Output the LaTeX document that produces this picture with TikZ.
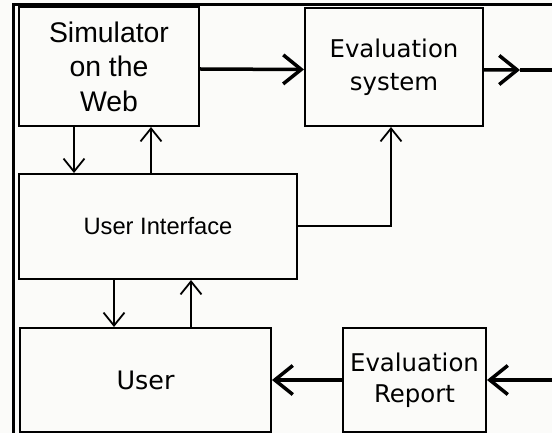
\documentclass[tikz,border=0pt]{standalone}
\usepackage{fontspec}
\setmainfont{DejaVu Sans}
\newfontfamily\arialfont{Liberation Sans}
\usetikzlibrary{arrows.meta}
\definecolor{bgcol}{RGB}{251,251,249}
\tikzset{
  box/.style={draw, line width=2bp, inner sep=0pt, align=center},
  thinarrow/.style={line width=1.6bp, -{Straight Barb[length=13bp, width=21bp, line width=1.8bp]}},
  thickarrow/.style={line width=3.5bp, -{Straight Barb[length=18bp, width=29bp, line width=3.5bp]}},
}
\begin{document}
\begin{tikzpicture}[x=1bp, y=-1bp]
        % Background and frame
        \fill[bgcol] (0,0) rectangle (552,433);
        \useasboundingbox (0,0) rectangle (552,433);
        \coordinate (frameTL) at (13.5,5);
        \coordinate (frameBL) at (13.5,433);
        \coordinate (frameTR) at (552,5);
        \draw[line width=3bp] (frameBL) -- (frameTL) -- (frameTR);

        % Defining the boxes
        \node[box, minimum width=180bp, minimum height=119bp, font=\arialfont\fontsize{28.5}{34.5}\selectfont] (sim) at (109,66.5) {Simulator\\on the\\Web};
        \node[box, minimum width=178bp, minimum height=118bp, font=\fontsize{24.5}{33}\selectfont] (eval) at (394,67) {Evaluation\\system};
        \node[box, minimum width=278bp, minimum height=105bp, font=\arialfont\fontsize{23.8}{27}\selectfont] (ui) at (158,226.5) {User Interface};
        \node[box, minimum width=251bp, minimum height=104bp, font=\fontsize{25.5}{30}\selectfont] (user) at (145.5,380) {User};
        \node[box, minimum width=143bp, minimum height=104bp, font=\fontsize{24.5}{31}\selectfont] (report) at (414.5,380) {Evaluation\\Report};

        % Free ends on the right edge
        \coordinate (outtip) at (520,70);
        \coordinate (outend) at (552,70);
        \coordinate (inend) at (552,380);

        % Thick connectors
        \draw[thickarrow] ([yshift=-2.5bp]sim.east) -- ([yshift=-2.5bp]eval.west);
        \draw[thickarrow] ([yshift=-3bp]eval.east) -- (outtip);
        \draw[line width=3.5bp] (outtip) -- (outend);
        \draw[thickarrow] (inend) -- (report.east);
        \draw[thickarrow] (report.west) -- (user.east);

        % Thin connectors
        \draw[thinarrow] ([xshift=-35bp]sim.south) -- ([xshift=-35bp]sim.south |- ui.north);
        \draw[thinarrow] ([xshift=42bp]sim.south |- ui.north) -- ([xshift=42bp]sim.south);
        \draw[thinarrow] ([xshift=-44bp]ui.south) -- ([xshift=-44bp]ui.south |- user.north);
        \draw[thinarrow] ([xshift=33bp]ui.south |- user.north) -- ([xshift=33bp]ui.south);
        \draw[thinarrow, line width=2bp] (ui.east) -| ([xshift=-3bp]eval.south);
\end{tikzpicture}
\end{document}
